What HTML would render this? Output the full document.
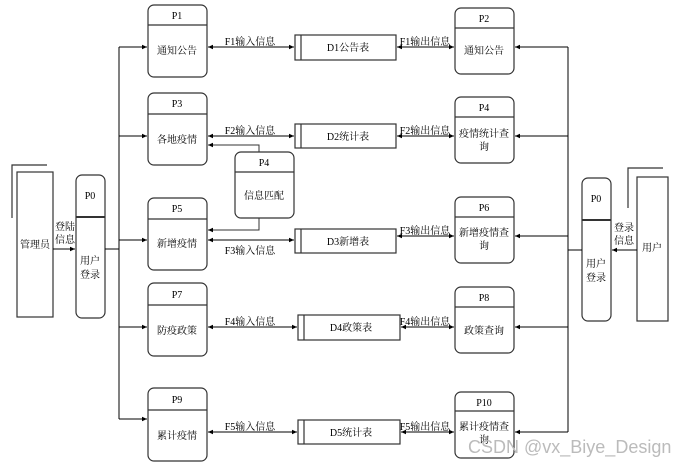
<!DOCTYPE html>
<html><head><meta charset="utf-8"><style>
html,body{margin:0;padding:0;background:#fff}
svg text{font-family:"Liberation Serif","Noto Serif CJK SC",serif;font-size:10px;fill:#000}
</style></head><body>
<svg width="689" height="465" viewBox="0 0 689 465" xmlns="http://www.w3.org/2000/svg">
<defs><marker id="a" markerWidth="6" markerHeight="6" refX="5" refY="3" orient="auto-start-reverse"><path d="M0,0.8 L5,3 L0,5.2z" fill="#000"/></marker></defs>
<g fill="none" stroke="#333" stroke-width="1.2">
<rect x="148" y="5" width="59" height="72" rx="6"/><line x1="148" y1="25" x2="207" y2="25"/>
<rect x="148" y="93" width="59" height="72" rx="6"/><line x1="148" y1="114" x2="207" y2="114"/>
<rect x="148" y="198" width="59" height="72" rx="6"/><line x1="148" y1="219" x2="207" y2="219"/>
<rect x="148" y="283" width="59" height="73" rx="6"/><line x1="148" y1="305" x2="207" y2="305"/>
<rect x="148" y="388" width="59" height="73" rx="6"/><line x1="148" y1="410" x2="207" y2="410"/>
<rect x="235" y="152" width="59" height="66" rx="6"/><line x1="235" y1="172" x2="294" y2="172"/>
<rect x="455" y="8" width="59" height="66" rx="6"/><line x1="455" y1="28" x2="514" y2="28"/>
<rect x="455" y="97" width="59" height="66" rx="6"/><line x1="455" y1="117" x2="514" y2="117"/>
<rect x="455" y="197" width="59" height="66" rx="6"/><line x1="455" y1="217" x2="514" y2="217"/>
<rect x="455" y="287" width="59" height="66" rx="6"/><line x1="455" y1="307" x2="514" y2="307"/>
<rect x="455" y="392" width="59" height="66" rx="6"/><line x1="455" y1="411" x2="514" y2="411"/>
<rect x="295" y="35" width="101" height="25"/><line x1="301" y1="35" x2="301" y2="60"/>
<rect x="295" y="124" width="101" height="24"/><line x1="301" y1="124" x2="301" y2="148"/>
<rect x="295" y="229" width="101" height="24"/><line x1="301" y1="229" x2="301" y2="253"/>
<rect x="298" y="315" width="102" height="25"/><line x1="304" y1="315" x2="304" y2="340"/>
<rect x="298" y="420" width="102" height="24"/><line x1="304" y1="420" x2="304" y2="444"/>
<rect x="76" y="175" width="29" height="143" rx="6"/><line x1="76" y1="217" x2="105" y2="217" stroke-width="2"/>
<rect x="582" y="178" width="29" height="143" rx="6"/><line x1="582" y1="220" x2="611" y2="220" stroke-width="2"/>
<rect x="17" y="172" width="36" height="145"/>
<polyline points="12,218 12,165 47,165"/>
<rect x="637" y="177" width="31" height="144"/>
<polyline points="628,208 628,168 663,168"/>
</g>
<g fill="none" stroke="#000" stroke-width="1">
<line x1="119" y1="47" x2="119" y2="419"/>
<line x1="105" y1="249" x2="119" y2="249"/>
<line x1="119" y1="47" x2="147" y2="47" marker-end="url(#a)"/>
<line x1="119" y1="136" x2="147" y2="136" marker-end="url(#a)"/>
<line x1="119" y1="240" x2="147" y2="240" marker-end="url(#a)"/>
<line x1="119" y1="327" x2="147" y2="327" marker-end="url(#a)"/>
<line x1="119" y1="419" x2="147" y2="419" marker-end="url(#a)"/>
<line x1="53" y1="249" x2="75" y2="249" marker-end="url(#a)"/>
<line x1="568" y1="47" x2="568" y2="432"/>
<line x1="568" y1="250" x2="582" y2="250"/>
<line x1="568" y1="47" x2="515" y2="47" marker-end="url(#a)"/>
<line x1="568" y1="136" x2="515" y2="136" marker-end="url(#a)"/>
<line x1="568" y1="236" x2="515" y2="236" marker-end="url(#a)"/>
<line x1="568" y1="327" x2="515" y2="327" marker-end="url(#a)"/>
<line x1="568" y1="432" x2="515" y2="432" marker-end="url(#a)"/>
<line x1="637" y1="250" x2="612" y2="250" marker-end="url(#a)"/>
<line x1="208" y1="47" x2="294" y2="47" marker-start="url(#a)" marker-end="url(#a)"/>
<line x1="397" y1="47" x2="454" y2="47" marker-start="url(#a)" marker-end="url(#a)"/>
<line x1="208" y1="136" x2="294" y2="136" marker-start="url(#a)" marker-end="url(#a)"/>
<line x1="397" y1="136" x2="454" y2="136" marker-start="url(#a)" marker-end="url(#a)"/>
<line x1="208" y1="240" x2="294" y2="240" marker-start="url(#a)" marker-end="url(#a)"/>
<line x1="397" y1="236" x2="454" y2="236" marker-start="url(#a)" marker-end="url(#a)"/>
<line x1="208" y1="327" x2="297" y2="327" marker-start="url(#a)" marker-end="url(#a)"/>
<line x1="401" y1="327" x2="454" y2="327" marker-start="url(#a)" marker-end="url(#a)"/>
<line x1="208" y1="432" x2="297" y2="432" marker-start="url(#a)" marker-end="url(#a)"/>
<line x1="401" y1="432" x2="454" y2="432" marker-start="url(#a)" marker-end="url(#a)"/>
<polyline points="259,152 259,145 208,145" marker-end="url(#a)" stroke="#333"/>
<polyline points="259,218 259,230 208,230" marker-end="url(#a)" stroke="#333"/>
</g>
<g text-anchor="middle">
<text x="177" y="19">P1</text><text x="177" y="54">通知公告</text>
<text x="177" y="107">P3</text><text x="177" y="143">各地疫情</text>
<text x="177" y="212">P5</text><text x="177" y="247">新增疫情</text>
<text x="177" y="298">P7</text><text x="177" y="334">防疫政策</text>
<text x="177" y="403">P9</text><text x="177" y="439">累计疫情</text>
<text x="264" y="166">P4</text><text x="264" y="199">信息匹配</text>
<text x="484" y="22">P2</text><text x="484" y="54">通知公告</text>
<text x="484" y="111">P4</text><text x="484" y="137">疫情统计查</text><text x="484" y="150">询</text>
<text x="484" y="211">P6</text><text x="484" y="236">新增疫情查</text><text x="484" y="249">询</text>
<text x="484" y="301">P8</text><text x="484" y="334">政策查询</text>
<text x="484" y="406">P10</text><text x="484" y="430">累计疫情查</text><text x="484" y="443">询</text>
<text x="348" y="51">D1公告表</text><text x="348" y="140">D2统计表</text>
<text x="348" y="245">D3新增表</text><text x="351" y="331">D4政策表</text><text x="351" y="436">D5统计表</text>
<text x="250" y="45">F1输入信息</text><text x="250" y="134">F2输入信息</text>
<text x="250" y="254">F3输入信息</text><text x="250" y="325">F4输入信息</text><text x="250" y="430">F5输入信息</text>
<text x="425" y="45">F1输出信息</text><text x="425" y="134">F2输出信息</text>
<text x="425" y="234">F3输出信息</text><text x="425" y="325">F4输出信息</text><text x="425" y="430">F5输出信息</text>
<text x="90" y="199">P0</text><text x="90" y="264">用户</text><text x="90" y="278">登录</text>
<text x="596" y="202">P0</text><text x="596" y="267">用户</text><text x="596" y="281">登录</text>
<text x="35" y="248">管理员</text><text x="652" y="251">用户</text>
<text x="65" y="230">登陆</text><text x="65" y="243">信息</text>
<text x="624" y="231">登录</text><text x="624" y="244">信息</text>
</g>
<text x="468" y="453" style="font-family:'Liberation Sans',sans-serif;font-size:18px;fill:#bbb">CSDN @vx_Biye_Design</text>
</svg>
</body></html>
